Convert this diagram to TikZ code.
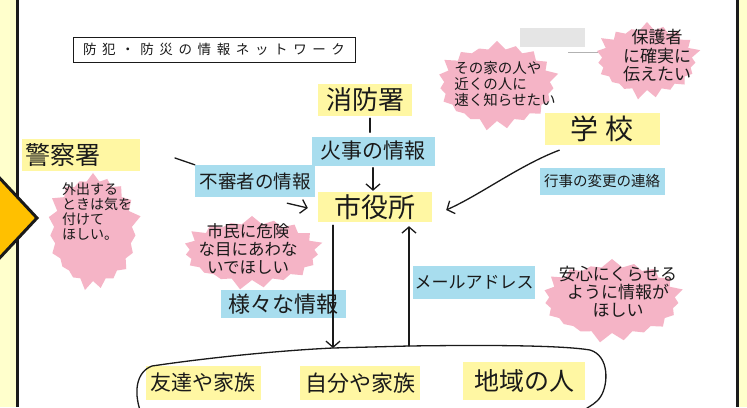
\documentclass[tikz,border=0pt]{standalone}
\usepackage{fontspec}
\newfontfamily\jp{Noto Sans CJK JP}
\usetikzlibrary{shapes.symbols,arrows.meta,calc}
\definecolor{hlY}{HTML}{FFF7A3}
\definecolor{hlB}{HTML}{A8DDEE}
\definecolor{pinkB}{HTML}{F5B4C6}
\definecolor{panelY}{HTML}{FFFFCC}
\definecolor{orangeA}{HTML}{FFC000}
\definecolor{ink}{HTML}{1A1A1A}
\newcommand\jpfs[1]{\fontsize{#1}{#1}\selectfont}
\begin{document}
\begin{tikzpicture}[x=1pt,y=-1pt,
  every node/.style={font=\jp, text=ink},
  ybox/.style={fill=hlY, inner sep=0pt},
  bbox/.style={fill=hlB, inner sep=0pt},
  burst/.style={shape=starburst, fill=pinkB, draw=none, starburst points=19,
    starburst point height=10pt, random starburst=70, inner sep=0pt},
  btext/.style={inner sep=0pt},
  pen/.style={draw=ink, line width=1.3pt, line cap=round},
  barb/.style={-{Straight Barb[length=6pt,width=14pt,line width=1.3pt]}}
]
\pgfmathsetseed{7}
\useasboundingbox (0,0) rectangle (747,407);
\fill[white] (0,0) rectangle (747,407);
% side panels
\fill[panelY] (0,0) rectangle (16,407);
\fill[panelY] (739,0) rectangle (747,407);
\draw[ink, line width=3pt] (17.5,0) -- (17.5,407);
\draw[ink, line width=3pt] (737.5,0) -- (737.5,407);
% orange pointer
\begin{scope}
\clip (0,0) rectangle (747,407);
\draw[ink, line width=3pt, fill=orangeA, line join=miter] (-6,172) -- (37,218) -- (-6,264) -- cycle;
\end{scope}
% redacted area
\fill[gray!20] (520,28) rectangle (585,47);
\draw[gray!60, line width=0.6pt] (568,52) -- (598,52);

% title
\node[draw=ink, line width=0.8pt, minimum width=282pt, minimum height=25pt, inner sep=0pt, font=\jp\jpfs{13.5}] (title) at (214,49.5)
  {\makebox[262pt][s]{防\hfill 犯\hfill ・\hfill 防\hfill 災\hfill の\hfill 情\hfill 報\hfill ネ\hfill ッ\hfill ト\hfill ワ\hfill ー\hfill ク}};

% bursts
\node[burst, minimum width=98pt, minimum height=120pt] (b1) at (93,231) {};
\node[btext, align=left, font=\jp\fontsize{14}{15}\selectfont] (t1) at (97,212) {外出する\\ときは気を\\付けて\\ほしい。};
\node[burst, minimum width=145pt, minimum height=76pt] (b2) at (252,252) {};
\node[btext, align=center, font=\jp\fontsize{16.5}{18}\selectfont] (t2) at (248,249) {市民に危険\\な目にあわな\\いでほしい};
\node[burst, minimum width=126pt, minimum height=92pt] (b3) at (497,85) {};
\node[btext, align=left, font=\jp\fontsize{14.5}{16}\selectfont] (t3) at (505,84) {その家の人や\\近くの人に\\速く知らせたい};
\node[burst, minimum width=110pt, minimum height=80pt] (b4) at (647,60) {};
\node[btext, align=center, font=\jp\fontsize{17}{18.5}\selectfont] (t4) at (657,56) {保護者\\に確実に\\伝えたい};
\node[burst, minimum width=146pt, minimum height=86pt] (b5) at (612,300) {};
\node[btext, align=center, font=\jp\fontsize{17}{18}\selectfont] (t5) at (618,292) {安心にくらせる\\ように情報が\\ほしい};

% boxes
\node[ybox, minimum width=94pt, minimum height=32pt, font=\jp\jpfs{26}] (shobo) at (365,100) {消防署};
\node[bbox, minimum width=123pt, minimum height=29pt, font=\jp\jpfs{21}] (kaji) at (373,151) {火事の情報};
\node[ybox, minimum width=114pt, minimum height=30pt, font=\jp\jpfs{27}] (shiyaku) at (375,207) {市役所};
\node[ybox, minimum width=115pt, minimum height=32pt, font=\jp\jpfs{28}] (gakko) at (602,129) {学\hspace{8pt}校};
\node[bbox, minimum width=125pt, minimum height=27pt, font=\jp\jpfs{14.5}] (gyoji) at (602,181) {行事の変更の連絡};
\node[ybox, minimum width=118pt, minimum height=32pt, text width=112pt, align=left, font=\jp\jpfs{25}] (keisatsu) at (81,155) {警察署};
\node[bbox, minimum width=120pt, minimum height=32pt, font=\jp\jpfs{18.5}] (fushin) at (255,181) {不審者の情報};
\node[bbox, minimum width=125pt, minimum height=28pt, font=\jp\jpfs{22}] (yousu) at (283,304) {様々な情報};
\node[bbox, minimum width=122pt, minimum height=33pt, font=\jp\jpfs{17}] (mail) at (474,282) {メールアドレス};
\node[ybox, minimum width=115pt, minimum height=34pt, font=\jp\jpfs{21}] (tomo) at (203,383) {友達や家族};
\node[ybox, minimum width=120pt, minimum height=34pt, font=\jp\jpfs{22}] (jibun) at (360,383) {自分や家族};
\node[ybox, minimum width=122pt, minimum height=38pt, font=\jp\jpfs{25}] (chiiki) at (524,381) {地域の人};

% bottom group outline
\coordinate (bdown) at (333,348);
\coordinate (bup) at (409,346);
\draw[pen] (140,410) .. controls (134,392) and (136,372) .. (152,366)
  .. controls (220,356) and (290,350) .. (bdown) -- (bup)
  .. controls (480,345) and (560,345) .. (590,350)
  .. controls (610,356) and (608,385) .. (601,396)
  .. controls (597,403) and (590,406) .. (584,410);

% connectors
\coordinate (k1) at (175,158);
\draw[pen] (k1) -- (fushin.north west);
\draw[pen, barb] ($(fushin.south east)+(-28,6)$) -- ($(shiyaku.west)+(-10,1)$);
\draw[pen] ($(shobo.south)+(5,2)$) -- ($(kaji.north)+(-3,-4)$);
\draw[pen, barb] ($(kaji.south)+(0,2)$) -- ($(kaji.south |- shiyaku.north)+(0,-1)$);
\draw[pen, barb] ($(shiyaku.south -| bdown)+(0,3)$) -- (bdown);
\draw[pen, barb] (bup) -- ($(shiyaku.south -| bup)+(0,4)$);
\draw[pen, barb] ($(gakko.south west)+(15,5)$) .. controls (520,165) and (480,195) .. ($(shiyaku.east)+(14,3)$);
\end{tikzpicture}
\end{document}
